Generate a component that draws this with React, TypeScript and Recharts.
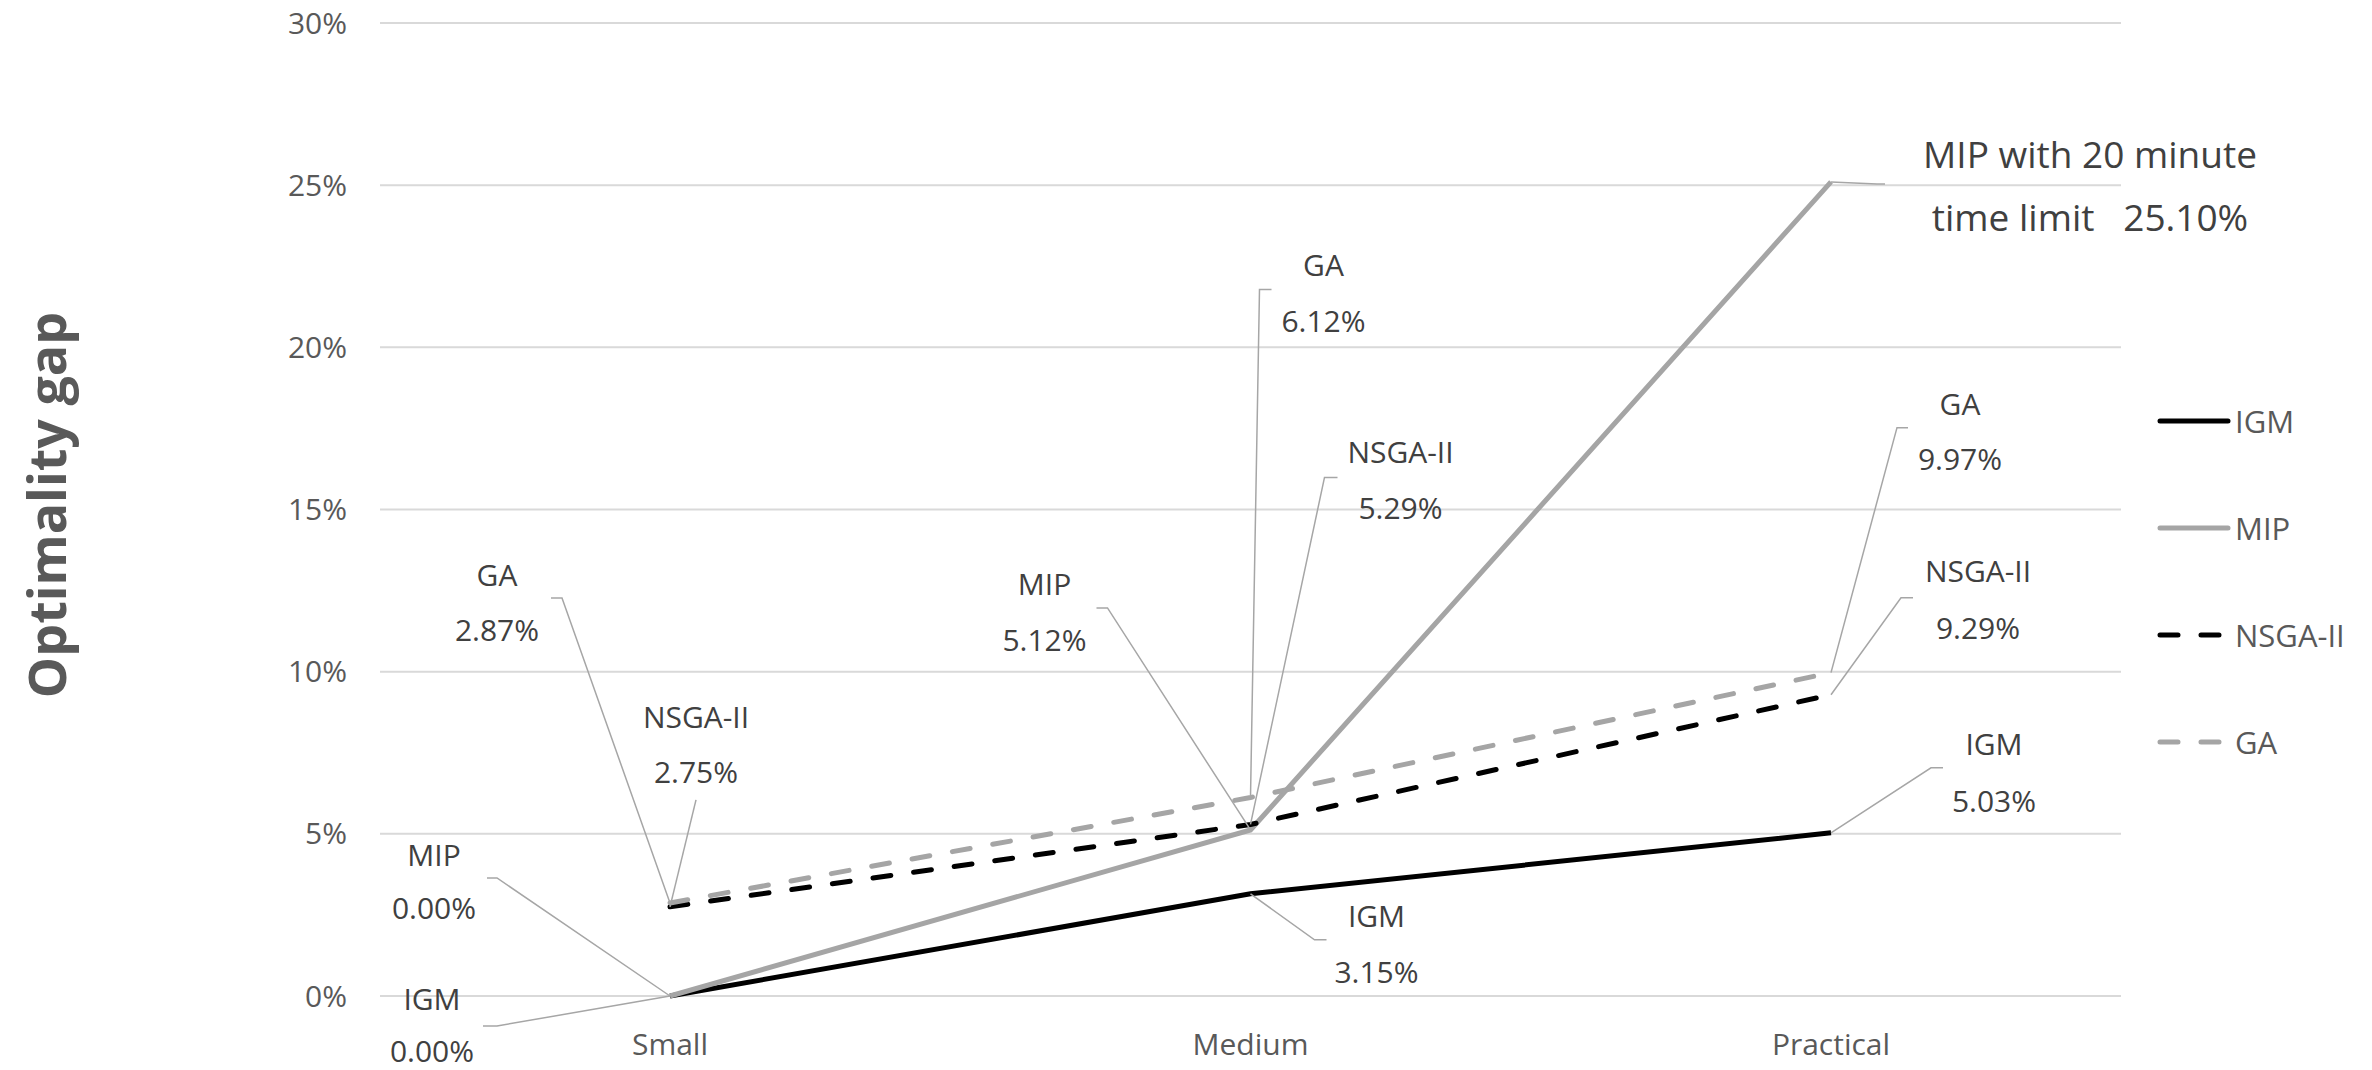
import { LineChart, Line, XAxis, YAxis, CartesianGrid, Legend, LabelList } from "recharts";

const categories = ["Small", "Medium", "Practical"];
const igmGap = [0, 3.15, 5.03];
const mipGap = [0, 5.12, 25.1];
const nsgaGap = [2.75, 5.29, 9.29];
const gaGap = [2.87, 6.12, 9.97];
const yTicks = [0, 5, 10, 15, 20, 25, 30];

// first line of each callout, and text put before the value on the second line
const mipTitles = ["MIP", "MIP", "MIP with 20 minute"];
const mipPrefix = ["", "", "time limit   "];

const data = categories.map((c, i) => ({
  category: c,
  IGM: igmGap[i],
  MIP: mipGap[i],
  "NSGA-II": nsgaGap[i],
  GA: gaGap[i],
}));

const FONT = "'Segoe UI', 'Open Sans', 'Noto Sans', sans-serif";
const W = 2372;
const H = 1070;

// callout offsets from the point: text centre (dx, dy1/dy2), leader elbow (ex, ey), leader end x (tx)
type Callout = { dx: number; dy1: number; dy2: number; ex: number; ey: number; tx: number; fs?: number };

const igmCallouts: Callout[] = [
  { dx: -238, dy1: 3, dy2: 55, ex: -173, ey: 30, tx: -187 },
  { dx: 126, dy1: 22, dy2: 78, ex: 64, ey: 46, tx: 76 },
  { dx: 163, dy1: -89, dy2: -32, ex: 100, ey: -65, tx: 112 },
];
const mipCallouts: Callout[] = [
  { dx: -236, dy1: -141, dy2: -88, ex: -173, ey: -118, tx: -183 },
  { dx: -206, dy1: -246, dy2: -190, ex: -143, ey: -222, tx: -154 },
  { dx: 259, dy1: -27, dy2: 36, ex: 46, ey: 2, tx: 54, fs: 37 },
];
const nsgaCallouts: Callout[] = [
  { dx: 26, dy1: -190, dy2: -135, ex: 26, ey: -107, tx: 26 },
  { dx: 150, dy1: -372, dy2: -316, ex: 74, ey: -347, tx: 87 },
  { dx: 147, dy1: -123, dy2: -66, ex: 70, ey: -97, tx: 82 },
];
const gaCallouts: Callout[] = [
  { dx: -173, dy1: -328, dy2: -273, ex: -108, ey: -305, tx: -119 },
  { dx: 73, dy1: -532, dy2: -476, ex: 9, ey: -508, tx: 21 },
  { dx: 129, dy1: -268, dy2: -213, ex: 66, ey: -245, tx: 77 },
];

const makeCallout =
  (name: string, spots: Callout[], titles?: string[], prefix?: string[]) => (props: any) => {
    const { index, value } = props;
    const x = props.x ?? props.viewBox?.x;
    const y = props.y ?? props.viewBox?.y;
    const s = spots[index];
    if (!s || x == null || y == null) return null;
    const fs = s.fs ?? 30;
    return (
      <g key={`${name}-${index}`}>
        <polyline
          points={`${x},${y} ${x + s.ex},${y + s.ey} ${x + s.tx},${y + s.ey}`}
          fill="none"
          stroke="#a6a6a6"
          strokeWidth={1.5}
        />
        <text x={x + s.dx} y={y + s.dy1} dy="0.36em" textAnchor="middle" fontSize={fs} fill="#404040" style={{ whiteSpace: "pre" }}>
          {titles?.[index] ?? name}
        </text>
        <text x={x + s.dx} y={y + s.dy2} dy="0.36em" textAnchor="middle" fontSize={fs} fill="#404040" style={{ whiteSpace: "pre" }}>
          {(prefix?.[index] ?? "") + Number(value).toFixed(2) + "%"}
        </text>
      </g>
    );
  };

const legendItems = [
  { name: "IGM", color: "#000000", dashed: false },
  { name: "MIP", color: "#a5a5a5", dashed: false },
  { name: "NSGA-II", color: "#000000", dashed: true },
  { name: "GA", color: "#a5a5a5", dashed: true },
];

const renderLegend = () => (
  <div style={{ fontFamily: FONT }}>
    {legendItems.map((it) => (
      <div key={it.name} style={{ height: 107, display: "flex", alignItems: "center" }}>
        <svg width={74} height={10}>
          <line
            x1={3}
            y1={5}
            x2={71}
            y2={5}
            stroke={it.color}
            strokeWidth={5}
            strokeLinecap="round"
            strokeDasharray={it.dashed ? "18 23" : undefined}
          />
        </svg>
        <span style={{ fontSize: 31, color: "#595959", marginLeft: 4 }}>{it.name}</span>
      </div>
    ))}
  </div>
);

const renderTitle = () => (
  <text
    x={66}
    y={505}
    transform="rotate(-90 66 505)"
    textAnchor="middle"
    fontSize={52}
    fontWeight={700}
    fill="#595959"
    fontFamily={FONT}
  >
    Optimality gap
  </text>
);

export default function App() {
  return (
    <div style={{ width: W, height: H, margin: -8, fontFamily: FONT }}>
      <LineChart width={W} height={H} data={data} margin={{ top: 23, right: 251, left: 0, bottom: 44 }} style={{ fontFamily: FONT }}>
        <CartesianGrid vertical={false} stroke="#d9d9d9" strokeWidth={2} />
        <XAxis
          dataKey="category"
          padding={{ left: 290, right: 290 }}
          axisLine={false}
          tickLine={false}
          tickMargin={32}
          height={30}
          tick={{ fontSize: 30, fill: "#595959" }}
        />
        <YAxis
          width={380}
          domain={[0, 30]}
          ticks={yTicks}
          interval={0}
          tickFormatter={(v) => `${v}%`}
          axisLine={false}
          tickLine={false}
          tickMargin={27}
          tick={{ fontSize: 30, fill: "#595959" }}
          label={{ value: "Optimality gap", content: renderTitle }}
        />
        <Legend
          layout="vertical"
          align="center"
          verticalAlign="middle"
          wrapperStyle={{ left: 2157, top: 367, width: 200 }}
          content={renderLegend}
        />
        <Line dataKey="IGM" stroke="#000000" strokeWidth={5} dot={false} isAnimationActive={false}>
          <LabelList content={makeCallout("IGM", igmCallouts)} />
        </Line>
        <Line dataKey="MIP" stroke="#a5a5a5" strokeWidth={5} dot={false} isAnimationActive={false}>
          <LabelList content={makeCallout("MIP", mipCallouts, mipTitles, mipPrefix)} />
        </Line>
        <Line
          dataKey="NSGA-II"
          stroke="#000000"
          strokeWidth={5}
          strokeDasharray="18 23"
          strokeLinecap="round"
          dot={false}
          isAnimationActive={false}
        >
          <LabelList content={makeCallout("NSGA-II", nsgaCallouts)} />
        </Line>
        <Line
          dataKey="GA"
          stroke="#a5a5a5"
          strokeWidth={5}
          strokeDasharray="18 23"
          strokeLinecap="round"
          dot={false}
          isAnimationActive={false}
        >
          <LabelList content={makeCallout("GA", gaCallouts)} />
        </Line>
      </LineChart>
    </div>
  );
}
